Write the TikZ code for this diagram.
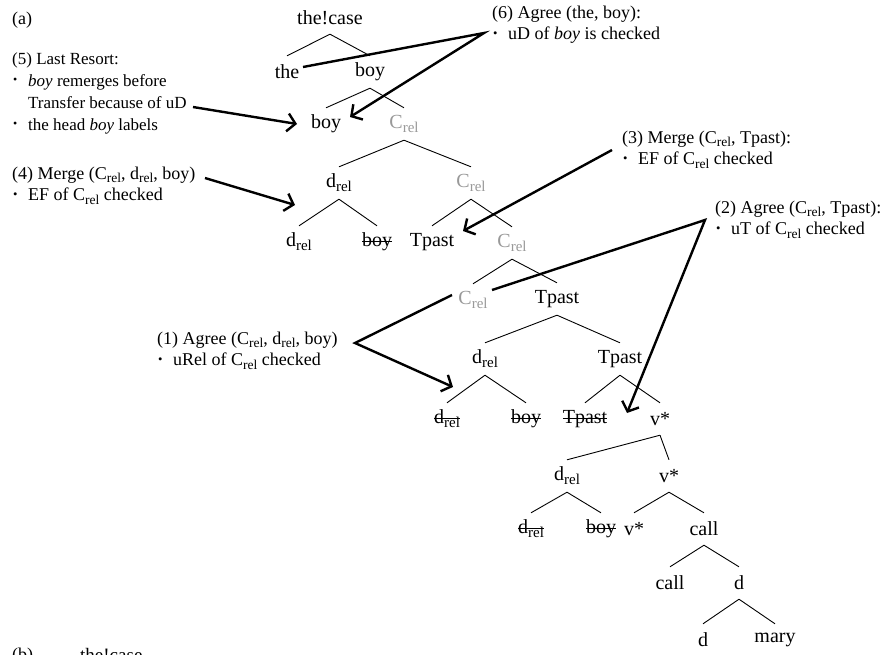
\documentclass[tikz,border=0pt]{standalone}
\usepackage{fontspec}
\setmainfont{Liberation Serif}
\usetikzlibrary{arrows.meta}
\newcommand{\relsub}{\raisebox{-0.45ex}{\scalebox{0.75}{rel}}}
\newcommand{\topstrut}{\rule{0pt}{14pt}}
\newcommand{\bul}{\makebox[16pt][l]{\hspace{1pt}\raisebox{0.3ex}{\scalebox{0.7}{\textbullet}}}}
\newsavebox{\strkbox}
\newcommand{\strk}[1]{\sbox{\strkbox}{#1}\rlap{\usebox{\strkbox}}\rule[0.24em]{\wd\strkbox}{0.05em}}
\definecolor{crelgray}{gray}{0.6}
\begin{document}
\begin{tikzpicture}[x=1pt,y=-1pt,
  tn/.style={font=\fontsize{20}{24}\selectfont, inner sep=0pt, minimum height=32pt, anchor=center},
  gr/.style={text=crelgray},
  br/.style={line width=0.9pt},
  ann/.style={font=\fontsize{18}{21.5}\selectfont, align=left, anchor=north west, inner sep=0pt},
  agr/.style={line width=2.4pt, line join=miter, -{Straight Barb[length=8pt,width=18pt]}}]
\useasboundingbox (0,0) rectangle (889,654);

% tree
\node[tn] (tc) at (330,18) {the!case};
\node[tn] (the) at (287,72) {the};
\node[tn] (boy1) at (370,72) {boy};
\node[tn] (boy2) at (326,124) {boy};
\node[tn,gr] (c1) at (404,124) {C\relsub};
\node[tn] (dr1) at (339,183) {d\relsub};
\node[tn,gr] (c2) at (471,183) {C\relsub};
\node[tn] (dr1a) at (299,242) {d\relsub};
\node[tn] (boyx1) at (377,242) {\strk{boy}};
\node[tn] (tp1) at (432,242) {Tpast};
\node[tn,gr] (c3) at (512,243) {C\relsub};
\node[tn,gr] (c4) at (473,300) {C\relsub};
\node[tn] (tp2) at (557,299) {Tpast};
\node[tn] (dr2) at (485,359) {d\relsub};
\node[tn] (tp3) at (620,359) {Tpast};
\node[tn] (dr2a) at (447,419) {\strk{d\relsub}};
\node[tn] (boyx2) at (526,419) {\strk{boy}};
\node[tn] (tpx) at (585,419) {\strk{Tpast}};
\node[tn] (vs1) at (660,419) {v*};
\node[tn] (dr3) at (567,476) {d\relsub};
\node[tn] (vs2) at (669,476) {v*};
\node[tn] (dr3a) at (531,529) {\strk{d\relsub}};
\node[tn] (boyx3) at (601,529) {\strk{boy}};
\node[tn] (vs3) at (634,529) {v*};
\node[tn] (call1) at (704,529) {call};
\node[tn] (call2) at (670,583) {call};
\node[tn] (d1) at (739,583) {d};
\node[tn] (d2) at (703,640) {d};
\node[tn] (mary) at (775,640) {mary};

\foreach \p/\c in {tc/the, tc/boy1, boy1/boy2, boy1/c1, c1/dr1, c1/c2,
  dr1/dr1a, dr1/boyx1, c2/tp1, c2/c3, c3/c4, c3/tp2, tp2/dr2, tp2/tp3,
  dr2/dr2a, dr2/boyx2, tp3/tpx, tp3/vs1, vs1/dr3, vs1/vs2, dr3/dr3a, dr3/boyx3,
  vs2/vs3, vs2/call1, call1/call2, call1/d1, d1/d2, d1/mary}
  \draw[br] (\p.south) -- (\c.north);

% labels
\node[ann] (la) at (12,10) {\topstrut(a)};
\node[ann] (n6) at (492,4) {\topstrut(6) Agree (the, boy):\\\bul uD of \textit{boy} is checked};
\node[ann,font=\fontsize{17}{22}\selectfont] (n5) at (12,50) {\topstrut(5) Last Resort:\\\bul\textit{boy} remerges before\\\hspace*{16pt}Transfer because of uD\\\bul the head \textit{boy} labels};
\node[ann] (n4) at (12,165) {\topstrut(4) Merge (C\relsub, d\relsub, boy)\\\bul EF of C\relsub\ checked};
\node[ann] (n3) at (622,129) {\topstrut(3) Merge (C\relsub, Tpast):\\\bul EF of C\relsub\ checked};
\node[ann] (n2) at (715,199) {\topstrut(2) Agree (C\relsub, Tpast):\\\bul uT of C\relsub\ checked};
\node[ann] (n1) at (157,330) {\topstrut(1) Agree (C\relsub, d\relsub, boy)\\\bul uRel of C\relsub\ checked};

\node[ann] (lb) at (12,646) {\topstrut(b)};
\node[ann,font=\fontsize{19}{22}\selectfont] (tcb) at (80,647) {\topstrut the!case};

% arrows
\coordinate (a6s) at (303,67);
\coordinate (a6m) at (484,33);
\coordinate (a6e) at (350,117);
\coordinate (a5s) at (193,107);
\coordinate (a5e) at (297,124);
\coordinate (a4s) at (205,178);
\coordinate (a4e) at (295,205);
\coordinate (a3s) at (612,150);
\coordinate (a3e) at (463,231);
\coordinate (a2s) at (492,290);
\coordinate (a2m) at (705,220);
\coordinate (a2e) at (627,413);
\coordinate (a1s) at (452,295);
\coordinate (a1m) at (355,343);
\coordinate (a1e) at (453,387);

\draw[agr] (a6s) -- (a6m) -- (a6e);
\draw[agr] (a5s) -- (a5e);
\draw[agr] (a4s) -- (a4e);
\draw[agr] (a3s) -- (a3e);
\draw[agr] (a2s) -- (a2m) -- (a2e);
\draw[agr] (a1s) -- (a1m) -- (a1e);
\end{tikzpicture}
\end{document}
